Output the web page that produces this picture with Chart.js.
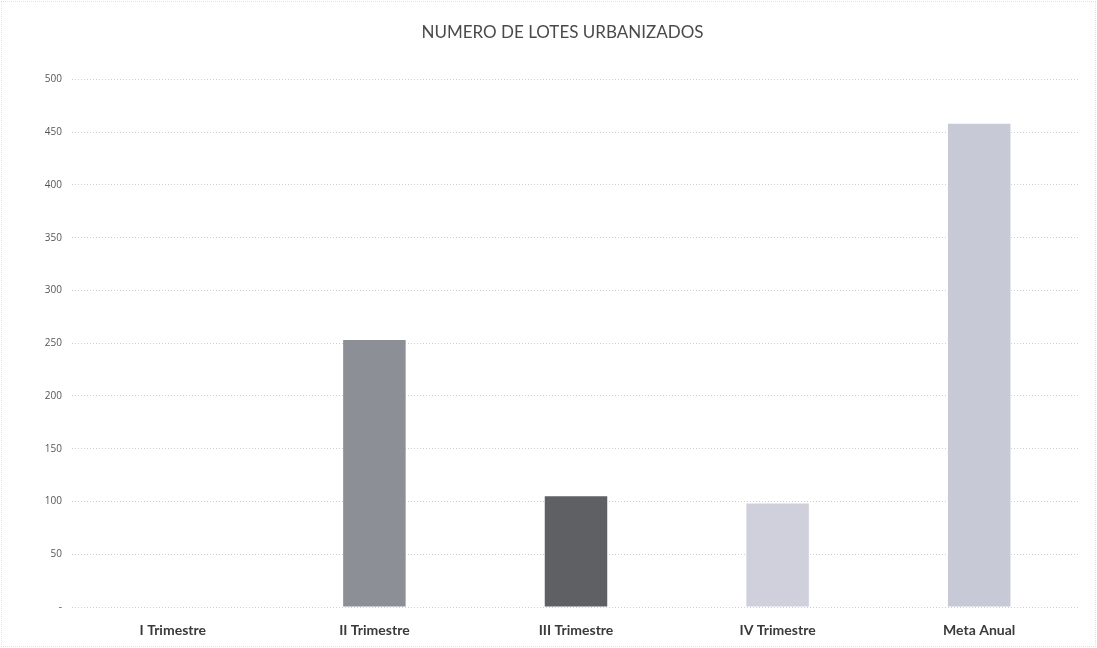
<!DOCTYPE html>
<html>
<head>
<meta charset="utf-8">
<script src="https://cdn.jsdelivr.net/npm/chart.js@4"></script>
<style>
  html, body { margin: 0; padding: 0; background: #fff; }
  #wrap { width: 1097px; height: 648px; position: relative; outline: 1px dotted #e2e2e2; outline-offset: -2px; }
</style>
</head>
<body>
<div id="wrap"><canvas id="lotesChart"></canvas></div>
<script>
// Chart data
const categories = ['I Trimestre', 'II Trimestre', 'III Trimestre', 'IV Trimestre', 'Meta Anual'];
const lotes = [0, 253, 105, 98, 458];
const barColors = ['#8d8f96', '#8d8f96', '#5f6064', '#cfd0dc', '#c8c9d6'];
const yTicks = [0, 50, 100, 150, 200, 250, 300, 350, 400, 450, 500];

const ctx = document.getElementById('lotesChart').getContext('2d');

new Chart(ctx, {
  type: 'bar',
  data: {
    labels: categories,
    datasets: [{
      data: lotes,
      backgroundColor: barColors,
      borderWidth: 0,
      barPercentage: 0.31,
      categoryPercentage: 1
    }]
  },
  options: {
    responsive: true,
    maintainAspectRatio: false,
    animation: false,
    layout: {
      padding: { left: 45, right: 17, top: 22, bottom: 0 }
    },
    plugins: {
      legend: { display: false },
      tooltip: { enabled: false },
      title: {
        display: true,
        text: 'NUMERO DE LOTES URBANIZADOS',
        color: '#4a4a4a',
        font: { family: 'Lato', size: 17, weight: 'normal' },
        padding: { top: 0, bottom: 37 }
      }
    },
    scales: {
      x: {
        afterFit: (axis) => { axis.height = 41; },
        grid: { display: false, drawTicks: false },
        border: { display: false },
        ticks: {
          padding: 15,
          color: '#3a3a3a',
          font: { family: 'Lato', size: 14, weight: 'bold' }
        }
      },
      y: {
        min: 0,
        max: 500,
        afterBuildTicks: (axis) => { axis.ticks = yTicks.map(v => ({ value: v })); },
        afterFit: (axis) => { axis.width = 27; },
        grid: {
          color: '#cfcfcf',
          drawTicks: false
        },
        border: { display: false, dash: [1, 2] },
        ticks: {
          padding: 10,
          color: '#555',
          font: { family: 'Open Sans', size: 10 },
          callback: (v) => v === 0 ? '-' : v
        }
      }
    }
  }
});
</script>
</body>
</html>
